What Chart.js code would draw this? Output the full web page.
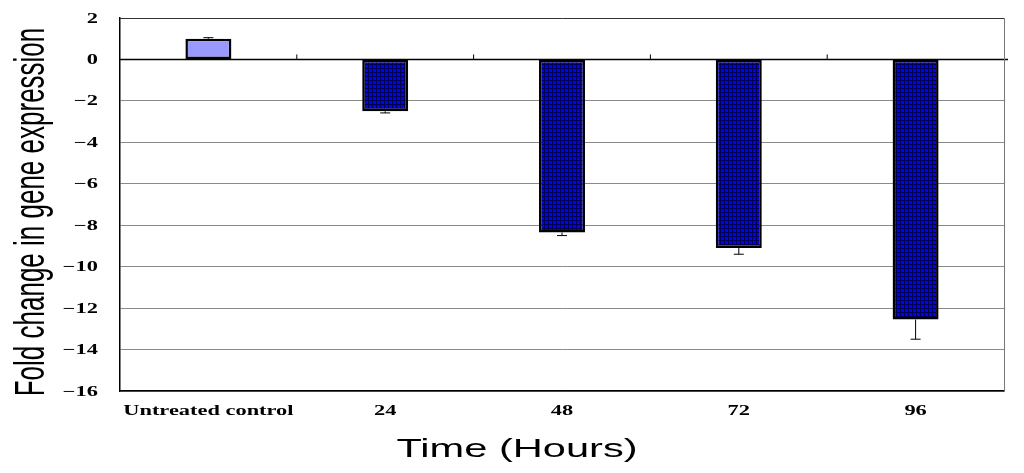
<!DOCTYPE html>
<html>
<head>
<meta charset="utf-8">
<script src="https://cdn.jsdelivr.net/npm/chart.js@4.4.0/dist/chart.umd.min.js"></script>
<style>
	html, body { margin: 0; padding: 0; background: #fff; }
	#wrap { width: 1024px; height: 473px; }
</style>
</head>
<body>
<div id="wrap"><canvas id="chart" width="1024" height="473"></canvas></div>
<script>
// data
const categories = ["Untreated control", "24", "48", "72", "96"];
const foldChange = [1.0, -2.5, -8.35, -9.1, -12.55];
const errorBars = [0.05, 0.08, 0.15, 0.3, 0.95];
const yTicks = [2, 0, -2, -4, -6, -8, -10, -12, -14, -16];
const xTitle = "Time (Hours)";
const yTitle = "Fold change in gene expression";

// the original figure is stretched sideways, so text is too
const STRETCH = 1.6;
const serifBold = "bold 14px 'Liberation Serif', 'Times New Roman', serif";
const sans = "26px 'Liberation Sans', Arial, sans-serif";

// grid pattern for the treated bars
function makePattern() {
	const c = document.createElement("canvas");
	c.width = 4;
	c.height = 4;
	const g = c.getContext("2d");
	g.fillStyle = "#0000ff";
	g.fillRect(0, 0, 4, 4);
	g.fillStyle = "#000050";
	g.fillRect(0, 0, 4, 1);
	g.fillRect(0, 0, 1, 4);
	return g.createPattern(c, "repeat");
}
const gridFill = makePattern();

const barColors = foldChange.map((v, i) => (i === 0 ? "#9999ff" : gridFill));

function stretchedText(ctx, text, x, y, align, angle) {
	ctx.save();
	ctx.translate(x, y);
	ctx.scale(STRETCH, 1);
	if (angle) ctx.rotate(angle);
	ctx.textAlign = align;
	ctx.fillText(text, 0, 0);
	ctx.restore();
}

// error bars, box border, category ticks and all the text
const extrasPlugin = {
	id: "extras",
	afterDatasetsDraw(chart) {
		const ctx = chart.ctx;
		const x = chart.scales.x;
		const y = chart.scales.y;
		const area = chart.chartArea;
		ctx.save();
		ctx.strokeStyle = "#000";
		ctx.lineWidth = 1;
		foldChange.forEach((v, i) => {
			const px = x.getPixelForValue(i);
			const end = v >= 0 ? v + errorBars[i] : v - errorBars[i];
			const y0 = y.getPixelForValue(v);
			const y1 = y.getPixelForValue(end);
			ctx.beginPath();
			ctx.moveTo(px, y0);
			ctx.lineTo(px, y1);
			ctx.moveTo(px - 5, y1);
			ctx.lineTo(px + 5, y1);
			ctx.stroke();
		});
		// small ticks between categories above the zero line
		const zy = y.getPixelForValue(0);
		for (let i = 0; i < categories.length - 1; i++) {
			const bx = (x.getPixelForValue(i) + x.getPixelForValue(i + 1)) / 2;
			ctx.beginPath();
			ctx.moveTo(bx, zy - 5);
			ctx.lineTo(bx, zy);
			ctx.stroke();
		}
		// zero line runs a bit past the plot
		ctx.lineWidth = 1.5;
		ctx.beginPath();
		ctx.moveTo(area.left, zy);
		ctx.lineTo(area.right + 4, zy);
		ctx.stroke();
		// top and right border
		ctx.lineWidth = 1;
		ctx.strokeStyle = "#333";
		ctx.beginPath();
		ctx.moveTo(area.left, area.top + 0.5);
		ctx.lineTo(area.right + 0.5, area.top + 0.5);
		ctx.stroke();
		ctx.strokeStyle = "#777";
		ctx.beginPath();
		ctx.moveTo(area.right + 0.5, area.top);
		ctx.lineTo(area.right + 0.5, area.bottom);
		ctx.stroke();

		// tick labels
		ctx.fillStyle = "#000";
		ctx.font = serifBold;
		ctx.textBaseline = "middle";
		yTicks.forEach((v) => {
			const label = v < 0 ? "\u2212" + Math.abs(v) : String(v);
			stretchedText(ctx, label, area.left - 22, y.getPixelForValue(v) + 1, "right");
		});
		ctx.textBaseline = "alphabetic";
		categories.forEach((c, i) => {
			stretchedText(ctx, c, x.getPixelForValue(i), area.bottom + 24, "center");
		});

		// axis titles
		ctx.font = sans;
		stretchedText(ctx, xTitle, chart.width / 2 + 5, 457, "center");
		ctx.textBaseline = "middle";
		stretchedText(ctx, yTitle, 33, 212, "center", -Math.PI / 2);
		ctx.restore();
	},
};

const ctx = document.getElementById("chart").getContext("2d");
const chart = new Chart(ctx, {
	type: "bar",
	data: {
		labels: categories,
		datasets: [
			{
				data: foldChange,
				backgroundColor: barColors,
				borderColor: "#000",
				borderWidth: 2.5,
				borderSkipped: false,
				barPercentage: 0.26,
				categoryPercentage: 1,
			},
		],
	},
	options: {
		responsive: false,
		animation: false,
		layout: {
			padding: { top: 18, right: 20, left: 0, bottom: 0 },
		},
		plugins: {
			legend: { display: false },
			tooltip: { enabled: false },
		},
		scales: {
			x: {
				grid: { display: false },
				border: { display: true, color: "#000", width: 1.5 },
				ticks: { display: false },
				afterFit(scale) {
					scale.height = 82;
				},
			},
			y: {
				min: -16,
				max: 2,
				afterBuildTicks(scale) {
					scale.ticks = yTicks.map((v) => ({ value: v }));
				},
				grid: {
					color: (c) => (c.tick && c.tick.value === 0 ? "#000" : c.tick && c.tick.value === 2 ? "rgba(0,0,0,0)" : "#8a8a8a"),
					drawTicks: false,
					lineWidth: 1,
				},
				border: { display: true, color: "#000", width: 1.5 },
				ticks: { display: false },
				afterFit(scale) {
					scale.width = 120;
				},
			},
		},
	},
	plugins: [extrasPlugin],
});
</script>
</body>
</html>
